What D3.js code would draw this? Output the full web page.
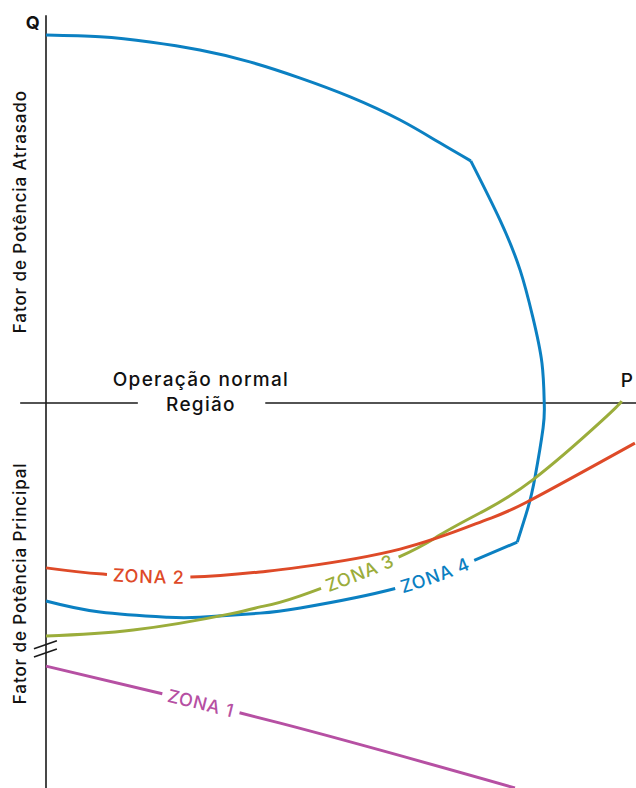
<!DOCTYPE html>
<html>
<head>
<meta charset="utf-8">
<script src="https://cdn.jsdelivr.net/npm/d3@7"></script>
<style>
  html, body { margin: 0; padding: 0; background: #fff; }
  svg { display: block; }
  text { font-family: Inter, "Open Sans", "DejaVu Sans", sans-serif; }
</style>
</head>
<body>
<svg id="chart" width="636" height="788"></svg>
<script>
// ---- data (P = active power, Q = reactive power, normalised units) ----
const zone4Top = [
  [0.000, 1.000], [0.094, 0.995], [0.181, 0.981], [0.268, 0.959], [0.355, 0.927],
  [0.443, 0.883], [0.530, 0.832], [0.617, 0.769], [0.686, 0.707], [0.740, 0.658]
];
const zone4Right = [
  [0.740, 0.658], [0.791, 0.497], [0.826, 0.361], [0.848, 0.234], [0.864, 0.109],
  [0.868, 0.000], [0.866, -0.068], [0.852, -0.201], [0.840, -0.283], [0.821, -0.378]
];
const zone4Bottom = [
  [0.000, -0.538], [0.094, -0.568], [0.211, -0.582], [0.268, -0.582], [0.373, -0.571],
  [0.443, -0.557], [0.611, -0.503], [0.744, -0.429], [0.821, -0.378]
];
const zone3 = [
  [0.000, -0.633], [0.152, -0.617], [0.321, -0.573], [0.373, -0.554], [0.443, -0.524],
  [0.611, -0.421], [0.686, -0.359], [0.756, -0.299], [0.848, -0.209], [0.970, -0.046], [1.003, 0.005]
];
const zone2 = [
  [0.000, -0.448], [0.099, -0.465], [0.251, -0.473], [0.373, -0.459], [0.443, -0.446],
  [0.617, -0.397], [0.761, -0.321], [0.838, -0.269], [1.026, -0.109]
];
const zone1 = [
  [0.000, -0.715], [0.408, -0.870], [0.817, -1.046]
];
const zoneNames = ["ZONA 1", "ZONA 2", "ZONA 3", "ZONA 4"];
const zoneLabelP = [0.270, 0.179, 0.547, 0.678];   // where each label sits along P
const axisTitles = ["Fator de Potência Atrasado", "Fator de Potência Principal"];
const regionLabel = ["Operação normal", "Região"];
const axisNames = ["Q", "P"];

// ---- scales ----
const svg = d3.select("#chart");
const P = d3.scaleLinear().domain([0, 1]).range([46, 620]);
const Q = d3.scaleLinear().domain([0, 1]).range([403, 35]);

const colors = { z1: "#b650a3", z2: "#de4a28", z3: "#9bad3b", z4: "#0b80c2" };

const line = d3.line()
  .x(d => P(d[0])).y(d => Q(d[1]))
  .curve(d3.curveNatural);

// ---- axes ----
const axisColor = "#1a1a1a";
svg.append("line")
  .attr("x1", P(0)).attr("x2", P(0))
  .attr("y1", Q(1.054)).attr("y2", Q(-1.05))
  .attr("stroke", axisColor).attr("stroke-width", 1.6);
svg.append("line")
  .attr("x1", P(-0.045)).attr("x2", P(0.160))
  .attr("y1", Q(0)).attr("y2", Q(0))
  .attr("stroke", axisColor).attr("stroke-width", 1.6);
svg.append("line")
  .attr("x1", P(0.382)).attr("x2", P(1.03))
  .attr("y1", Q(0)).attr("y2", Q(0))
  .attr("stroke", axisColor).attr("stroke-width", 1.6);

// axis break marks
[-0.668, -0.690].forEach(a => {
  svg.append("line")
    .attr("x1", P(-0.021)).attr("y1", Q(a))
    .attr("x2", P(0.019)).attr("y2", Q(a) - 8)
    .attr("stroke", axisColor).attr("stroke-width", 1.6);
});

// axis letters
svg.append("text").attr("x", P(-0.023)).attr("y", Q(1.017))
  .attr("text-anchor", "middle").attr("font-size", 18).attr("font-weight", 700)
  .attr("fill", "#111").text(axisNames[0]);
svg.append("text").attr("x", P(1.012)).attr("y", Q(0.044))
  .attr("text-anchor", "middle").attr("font-size", 19).attr("font-weight", 500)
  .attr("fill", "#111").text(axisNames[1]);

// region label
svg.append("text").attr("x", P(0.270)).attr("y", Q(0.045))
  .attr("text-anchor", "middle").attr("font-size", 19).attr("letter-spacing", 1.3)
  .attr("font-weight", 500).attr("fill", "#111").text(regionLabel[0]);
svg.append("text").attr("x", P(0.270)).attr("y", Q(-0.021))
  .attr("text-anchor", "middle").attr("font-size", 19).attr("letter-spacing", 1.3)
  .attr("font-weight", 500).attr("fill", "#111").text(regionLabel[1]);

// vertical axis titles
[[axisTitles[0], Q(0.52)], [axisTitles[1], Q(-0.49)]].forEach(([t, cy]) => {
  svg.append("text")
    .attr("transform", `translate(${P(-0.045)},${cy}) rotate(-90)`)
    .attr("text-anchor", "middle").attr("dy", "0.35em")
    .attr("font-size", 17).attr("letter-spacing", 0.9).attr("font-weight", 500)
    .attr("fill", "#111").text(t);
});

// ---- curves ----
function drawCurve(data, color, id) {
  return svg.append("path").attr("id", id)
    .attr("d", line(data)).attr("fill", "none")
    .attr("stroke", color).attr("stroke-width", 3)
    .attr("stroke-linecap", "butt").attr("stroke-linejoin", "miter");
}

function lengthAtX(node, px) {
  let lo = 0, hi = node.getTotalLength();
  for (let i = 0; i < 40; i++) {
    const mid = (lo + hi) / 2;
    if (node.getPointAtLength(mid).x < px) lo = mid; else hi = mid;
  }
  return (lo + hi) / 2;
}

function labelCurve(path, name, pVal, color, fontSize) {
  const node = path.node();
  const total = node.getTotalLength();
  const center = lengthAtX(node, P(pVal));
  const t = svg.append("text")
    .attr("font-size", fontSize).attr("letter-spacing", 0.7)
    .attr("font-weight", 500)
    .attr("fill", color).attr("dy", "0.36em");
  t.append("textPath")
    .attr("href", "#" + path.attr("id"))
    .attr("startOffset", center)
    .attr("text-anchor", "middle")
    .text(name);
  const w = t.node().getComputedTextLength();
  const half = w / 2 + 6;
  path.attr("stroke-dasharray", `${center - half} ${2 * half} ${total}`);
}

drawCurve(zone4Top, colors.z4, "z4top");
drawCurve(zone4Right, colors.z4, "z4right");
const p4 = drawCurve(zone4Bottom, colors.z4, "z4bottom");
const p3 = drawCurve(zone3, colors.z3, "z3");
const p2 = drawCurve(zone2, colors.z2, "z2");
const p1 = drawCurve(zone1, colors.z1, "z1");

labelCurve(p1, zoneNames[0], zoneLabelP[0], colors.z1, 18);
labelCurve(p2, zoneNames[1], zoneLabelP[1], colors.z2, 18);
labelCurve(p3, zoneNames[2], zoneLabelP[2], colors.z3, 18);
labelCurve(p4, zoneNames[3], zoneLabelP[3], colors.z4, 18);
</script>
</body>
</html>
